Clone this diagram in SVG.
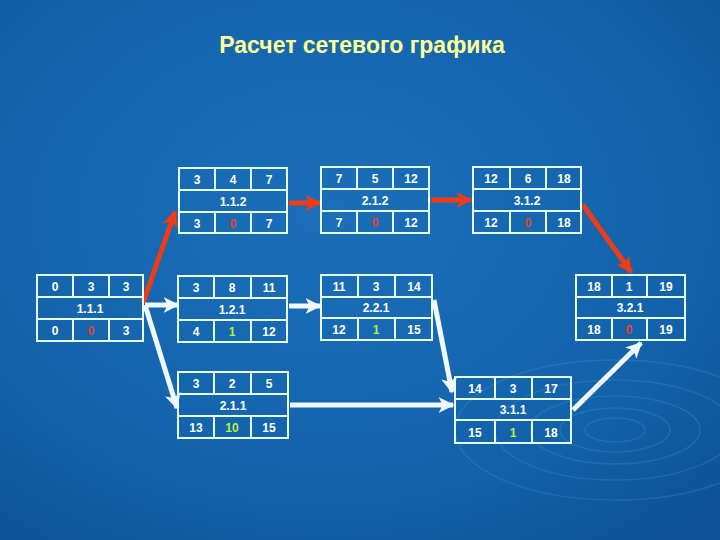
<svg xmlns="http://www.w3.org/2000/svg" width="720" height="540" viewBox="0 0 720 540">
<defs>
<radialGradient id="bg" cx="45%" cy="40%" r="75%">
<stop offset="0" stop-color="#1a6fb8"/>
<stop offset="0.7" stop-color="#1262aa"/>
<stop offset="1" stop-color="#0c5398"/>
</radialGradient>
<marker id="ahR" viewBox="0 0 10 10" refX="9" refY="5" markerWidth="16" markerHeight="16" markerUnits="userSpaceOnUse" orient="auto">
<path d="M0,0 L10,5 L0,10 L2.5,5 Z" fill="#f03c14"/>
</marker>
<marker id="ahW" viewBox="0 0 10 10" refX="9" refY="5" markerWidth="16" markerHeight="16" markerUnits="userSpaceOnUse" orient="auto">
<path d="M0,0 L10,5 L0,10 L2.5,5 Z" fill="#f0f8ff"/>
</marker>
</defs>
<style>
.box{fill:none;stroke:#e6ffff;stroke-width:2}
.t{font-family:"Liberation Sans",Arial,sans-serif;font-size:12px;font-weight:bold;fill:#ffffff;text-anchor:middle}
.z{fill:#e8402a}
.g{fill:#b8f03c}
.red{stroke:#f03c14;stroke-width:5;fill:none;marker-end:url(#ahR)}
.wht{stroke:#f0f8ff;stroke-width:5;fill:none;marker-end:url(#ahW)}
.rip{fill:none;stroke:#4a90cc;stroke-opacity:0.3;stroke-width:1.5}
</style>
<rect width="720" height="540" fill="url(#bg)"/>
<g id="ripples">
<ellipse class="rip" cx="615" cy="430" rx="30" ry="12"/>
<ellipse class="rip" cx="615" cy="430" rx="55" ry="22"/>
<ellipse class="rip" cx="615" cy="430" rx="85" ry="34"/>
<ellipse class="rip" cx="615" cy="430" rx="120" ry="50"/>
<ellipse class="rip" cx="615" cy="430" rx="160" ry="70"/>
</g>
<text x="362" y="53" font-family="Liberation Sans,Arial,sans-serif" font-size="23" font-weight="bold" fill="#ffff99" text-anchor="middle">Расчет сетевого графика</text>

<g id="connectors">
<line class="red" x1="143" y1="303" x2="175" y2="212"/>
<line class="red" x1="289" y1="203" x2="320" y2="203"/>
<line class="red" x1="431" y1="200" x2="471" y2="200"/>
<line class="red" x1="583" y1="205" x2="631" y2="272"/>
<line class="wht" x1="145" y1="305" x2="178" y2="305"/>
<line class="wht" x1="145" y1="305" x2="177" y2="408"/>
<line class="wht" x1="289" y1="306" x2="320" y2="306"/>
<line class="wht" x1="434" y1="300" x2="452" y2="392"/>
<line class="wht" x1="290" y1="405" x2="453" y2="405"/>
<line class="wht" x1="573" y1="410" x2="641" y2="343"/>
</g>

<g id="n112">
<rect class="box" x="179" y="168" width="108" height="65"/>
<path class="box" d="M179,190H287M179,212H287M215,168V190M251,168V190M215,212V233M251,212V233"/>
<text class="t" x="197" y="184">3</text><text class="t" x="233" y="184">4</text><text class="t" x="269" y="184">7</text>
<text class="t" x="233" y="206">1.1.2</text>
<text class="t" x="197" y="228">3</text><text class="t z" x="233" y="228">0</text><text class="t" x="269" y="228">7</text>
</g>

<g id="n212">
<rect class="box" x="321" y="167" width="108" height="66"/>
<path class="box" d="M321,189H429M321,211H429M357,167V189M393,167V189M357,211V233M393,211V233"/>
<text class="t" x="339" y="183">7</text><text class="t" x="375" y="183">5</text><text class="t" x="411" y="183">12</text>
<text class="t" x="375" y="205">2.1.2</text>
<text class="t" x="339" y="227">7</text><text class="t z" x="375" y="227">0</text><text class="t" x="411" y="227">12</text>
</g>

<g id="n312">
<rect class="box" x="473" y="167" width="108" height="66"/>
<path class="box" d="M473,189H581M473,211H581M510,167V189M546,167V189M510,211V233M546,211V233"/>
<text class="t" x="491" y="183">12</text><text class="t" x="528" y="183">6</text><text class="t" x="564" y="183">18</text>
<text class="t" x="527" y="205">3.1.2</text>
<text class="t" x="491" y="227">12</text><text class="t z" x="528" y="227">0</text><text class="t" x="564" y="227">18</text>
</g>

<g id="n111">
<rect class="box" x="37" y="275" width="106" height="66"/>
<path class="box" d="M37,297H143M37,319H143M73,275V297M109,275V297M73,319V341M109,319V341"/>
<text class="t" x="55" y="291">0</text><text class="t" x="91" y="291">3</text><text class="t" x="126" y="291">3</text>
<text class="t" x="90" y="313">1.1.1</text>
<text class="t" x="55" y="335">0</text><text class="t z" x="91" y="335">0</text><text class="t" x="126" y="335">3</text>
</g>

<g id="n121">
<rect class="box" x="178" y="276" width="109" height="66"/>
<path class="box" d="M178,298H287M178,320H287M214,276V298M251,276V298M214,320V342M251,320V342"/>
<text class="t" x="196" y="292">3</text><text class="t" x="232" y="292">8</text><text class="t" x="269" y="292">11</text>
<text class="t" x="232" y="314">1.2.1</text>
<text class="t" x="196" y="336">4</text><text class="t g" x="232" y="336">1</text><text class="t" x="269" y="336">12</text>
</g>

<g id="n221">
<rect class="box" x="321" y="275" width="111" height="65"/>
<path class="box" d="M321,297H432M321,318H432M358,275V297M395,275V297M358,318V340M395,318V340"/>
<text class="t" x="339" y="291">11</text><text class="t" x="376" y="291">3</text><text class="t" x="414" y="291">14</text>
<text class="t" x="376" y="312">2.2.1</text>
<text class="t" x="339" y="334">12</text><text class="t g" x="376" y="334">1</text><text class="t" x="414" y="334">15</text>
</g>

<g id="n321">
<rect class="box" x="576" y="275" width="109" height="65"/>
<path class="box" d="M576,297H685M576,318H685M612,275V297M647,275V297M612,318V340M647,318V340"/>
<text class="t" x="594" y="291">18</text><text class="t" x="629" y="291">1</text><text class="t" x="666" y="291">19</text>
<text class="t" x="630" y="312">3.2.1</text>
<text class="t" x="594" y="334">18</text><text class="t z" x="629" y="334">0</text><text class="t" x="666" y="334">19</text>
</g>

<g id="n211">
<rect class="box" x="178" y="372" width="110" height="66"/>
<path class="box" d="M178,394H288M178,416H288M214,372V394M251,372V394M214,416V438M251,416V438"/>
<text class="t" x="196" y="388">3</text><text class="t" x="232" y="388">2</text><text class="t" x="269" y="388">5</text>
<text class="t" x="233" y="410">2.1.1</text>
<text class="t" x="196" y="432">13</text><text class="t g" x="232" y="432">10</text><text class="t" x="269" y="432">15</text>
</g>

<g id="n311">
<rect class="box" x="455" y="377" width="116" height="66"/>
<path class="box" d="M455,399H571M455,420H571M495,377V399M532,377V399M495,420V443M532,420V443"/>
<text class="t" x="475" y="393">14</text><text class="t" x="513" y="393">3</text><text class="t" x="551" y="393">17</text>
<text class="t" x="513" y="414">3.1.1</text>
<text class="t" x="475" y="437">15</text><text class="t g" x="513" y="437">1</text><text class="t" x="551" y="437">18</text>
</g>
</svg>
